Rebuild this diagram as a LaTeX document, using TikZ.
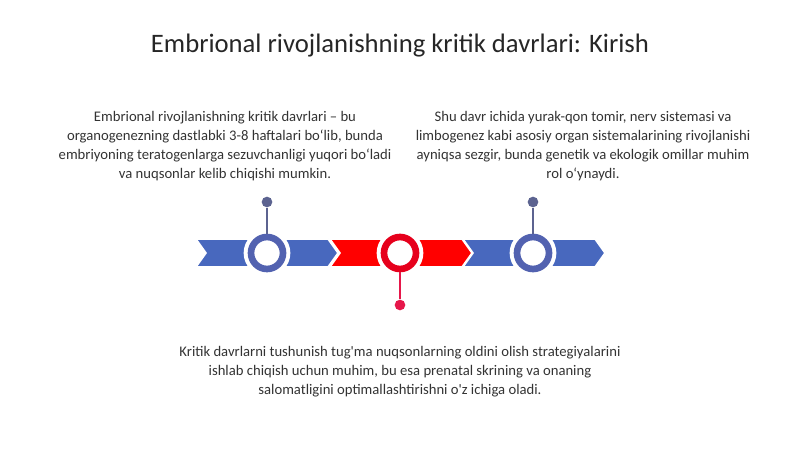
\documentclass[tikz,border=0pt]{standalone}
\usepackage{fontspec}
\setmainfont{Carlito}
\usetikzlibrary{positioning}
\definecolor{bandblue}{HTML}{4868BE}
\definecolor{ringblue}{HTML}{5262B0}
\definecolor{pinblue}{HTML}{5C6390}
\definecolor{bandred}{HTML}{FF0000}
\definecolor{ringred}{HTML}{E6001C}
\definecolor{pinred}{HTML}{E6174A}
\definecolor{txt}{HTML}{333333}
\tikzset{
	ring/.style={circle,draw=#1,line width=5,fill=white,minimum size=24,inner sep=0pt,
		preaction={draw=white,line width=11}},
	pindot/.style={circle,fill=#1,minimum size=8,inner sep=0pt},
	pinline/.style={draw=#1,line width=1.6},
	para/.style={align=center,text=txt,font=\fontsize{11}{14.2}\selectfont}
}
\begin{document}
\begin{tikzpicture}[x=0.75pt,y=-0.75pt]
		\useasboundingbox (0,0) rectangle (800,449);
		
		\node[text=black!85,font=\fontsize{20}{24}\selectfont] (title) at (400,46) {Embrional rivojlanishning kritik davrlari: Kirish};
		
		% chevron band
		\foreach \xl/\col in {196/bandblue,330/bandred,463/bandblue}{
			\fill[\col,draw=white,line width=1.2] (\xl,239) -- (\xl+10,253) -- (\xl,267) -- (\xl+132,267)
				-- (\xl+142,253) -- (\xl+132,239) -- cycle;
		}
		
		\node[ring=ringblue] (c1) at (267,253) {};
		\node[ring=ringred] (c2) at (400,253) {};
		\node[ring=ringblue] (c3) at (533,253) {};
		
		\node[pindot=pinblue] (d1) at (267,202) {};
		\node[pindot=pinred] (d2) at (400,305) {};
		\node[pindot=pinblue] (d3) at (533,202) {};
		\draw[pinline=pinblue] (d1) -- (c1);
		\draw[pinline=pinred] (c2) -- (d2);
		\draw[pinline=pinblue] (d3) -- (c3);
		
		\node[para] (left) at (225,146) {Embrional rivojlanishning kritik davrlari – bu\\
			organogenezning dastlabki 3-8 haftalari bo‘lib, bunda\\
			embriyoning teratogenlarga sezuvchanligi yuqori bo‘ladi\\
			va nuqsonlar kelib chiqishi mumkin.};
		\node[para] (right) at (583,146) {Shu davr ichida yurak-qon tomir, nerv sistemasi va\\
			limbogenez kabi asosiy organ sistemalarining rivojlanishi\\
			ayniqsa sezgir, bunda genetik va ekologik omillar muhim\\
			rol o‘ynaydi.};
		\node[para] (bottom) at (400,372) {Kritik davrlarni tushunish tug\textquotesingle ma nuqsonlarning oldini olish strategiyalarini\\
			ishlab chiqish uchun muhim, bu esa prenatal skrining va onaning\\
			salomatligini optimallashtirishni o\textquotesingle z ichiga oladi.};
\end{tikzpicture}
\end{document}
